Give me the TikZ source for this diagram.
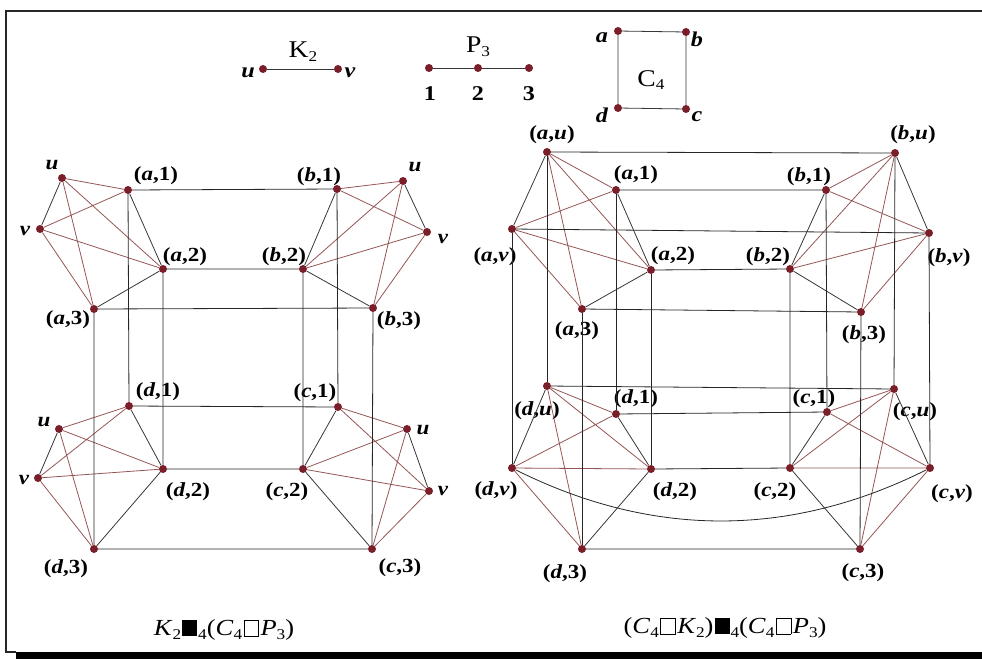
\documentclass[tikz,border=0pt]{standalone}
\usepackage{fontspec}
\setmainfont{Liberation Serif}[FakeStretch=1.15]
\definecolor{dotred}{RGB}{122,30,42}
\definecolor{joinred}{RGB}{150,85,85}
\definecolor{edgegray}{RGB}{55,55,55}
\newcommand{\lowidx}[1]{\raisebox{-0.35ex}{\fontsize{15}{15}\selectfont #1}}
\newcommand{\vp}[2]{(\textit{#1},#2)}
\newcommand{\filledsq}{\kern1pt\rule{15pt}{16pt}\kern1pt}
\newcommand{\opensq}{{\kern1.5pt\fboxsep=0pt\fboxrule=0.7pt\fbox{\rule{0pt}{15pt}\hspace{14pt}}\kern1.5pt}}

\begin{document}
\begin{tikzpicture}[
  x=1pt,y=-1pt,
  vtx/.style={circle,fill=dotred,inner sep=0pt,minimum size=8pt},
  lbl/.style={inner sep=0pt,font=\fontsize{20}{20}\selectfont\bfseries},
  toplbl/.style={inner sep=0pt,font=\fontsize{21}{21}\selectfont\bfseries},
  gname/.style={inner sep=0pt,font=\fontsize{24}{24}\selectfont},
  capt/.style={inner sep=0pt,font=\fontsize{23}{23}\selectfont},
  factedge/.style={draw=edgegray,line width=0.8pt},
  joinedge/.style={draw=joinred,line width=0.8pt},
  lnk/.style={draw=black!85,line width=0.8pt}
]
\useasboundingbox (0,0) rectangle (982,659);

% Frame
\draw[line width=2pt,black!85] (982,11) -- (6,11) -- (6,652) -- (16,652);
\fill[black] (16,652) rectangle (982,659);

% The factor graphs
\node[vtx] (Ku) at (263,69) {};
\node[vtx] (Kv) at (338,69) {};
\node[toplbl] (tKu) at (248,73) {\textit{u}};
\node[toplbl] (tKv) at (350,73) {\textit{v}};
\node[gname] (tK) at (303,52) {K\lowidx{2}};
\draw[factedge] (Ku) -- (Kv);

\node[vtx] (P1) at (429,68) {};
\node[vtx] (P2) at (478,68) {};
\node[vtx] (P3) at (529,68) {};
\node[toplbl] (tP1) at (430,94) {1};
\node[toplbl] (tP2) at (478,94) {2};
\node[toplbl] (tP3) at (529,94) {3};
\node[gname] (tP) at (478,47) {P\lowidx{3}};
\draw[factedge] (P1) -- (P2) -- (P3);

\node[vtx] (Ca) at (618,31) {};
\node[vtx] (Cb) at (686,32) {};
\node[vtx] (Cc) at (686,109) {};
\node[vtx] (Cd) at (618,108) {};
\node[toplbl] (tCa) at (602,38) {\textit{a}};
\node[toplbl] (tCb) at (697,39) {\textit{b}};
\node[toplbl] (tCc) at (697,117) {\textit{c}};
\node[toplbl] (tCd) at (602,115) {\textit{d}};
\node[gname] (tC) at (651,80) {C\lowidx{4}};
\draw[factedge] (Ca) -- (Cb) -- (Cc) -- (Cd) -- (Ca);

% Left graph: vertices
\node[vtx] (Lau) at (62,178) {};
\node[vtx] (Lav) at (40,229) {};
\node[vtx] (La1) at (128,190) {};
\node[vtx] (La2) at (163,269) {};
\node[vtx] (La3) at (94,309) {};
\node[vtx] (Lbu) at (403,181) {};
\node[vtx] (Lbv) at (427,232) {};
\node[vtx] (Lb1) at (337,189) {};
\node[vtx] (Lb2) at (303,269) {};
\node[vtx] (Lb3) at (373,308) {};
\node[vtx] (Ldu) at (59,429) {};
\node[vtx] (Ldv) at (38,478) {};
\node[vtx] (Ld1) at (129,406) {};
\node[vtx] (Ld2) at (163,469) {};
\node[vtx] (Ld3) at (94,549) {};
\node[vtx] (Lcu) at (407,429) {};
\node[vtx] (Lcv) at (429,491) {};
\node[vtx] (Lc1) at (338,407) {};
\node[vtx] (Lc2) at (303,469) {};
\node[vtx] (Lc3) at (372,549) {};

% Left graph: labels
\node[lbl] (tLau) at (52,165) {\textit{u}};
\node[lbl] (tLav) at (25,231) {\textit{v}};
\node[lbl] (tLa1) at (156,176) {\vp{a}{1}};
\node[lbl] (tLa2) at (185,257) {\vp{a}{2}};
\node[lbl] (tLa3) at (68,320) {\vp{a}{3}};
\node[lbl] (tLbu) at (415,167) {\textit{u}};
\node[lbl] (tLbv) at (443,239) {\textit{v}};
\node[lbl] (tLb1) at (319,177) {\vp{b}{1}};
\node[lbl] (tLb2) at (284,257) {\vp{b}{2}};
\node[lbl] (tLb3) at (399,321) {\vp{b}{3}};
\node[lbl] (tLdu) at (44,422) {\textit{u}};
\node[lbl] (tLdv) at (24,480) {\textit{v}};
\node[lbl] (tLd1) at (158,392) {\vp{d}{1}};
\node[lbl] (tLd2) at (188,492) {\vp{d}{2}};
\node[lbl] (tLd3) at (66,569) {\vp{d}{3}};
\node[lbl] (tLcu) at (423,430) {\textit{u}};
\node[lbl] (tLcv) at (443,491) {\textit{v}};
\node[lbl] (tLc1) at (315,393) {\vp{c}{1}};
\node[lbl] (tLc2) at (287,492) {\vp{c}{2}};
\node[lbl] (tLc3) at (400,568) {\vp{c}{3}};

% Left graph: edges inside the four groups
\draw[factedge] (Lau) -- (Lav) (La1) -- (La2) -- (La3);
\draw[joinedge] (Lau) -- (La1) (Lau) -- (La2) (Lau) -- (La3)
  (Lav) -- (La1) (Lav) -- (La2) (Lav) -- (La3);
\draw[factedge] (Lbu) -- (Lbv) (Lb1) -- (Lb2) -- (Lb3);
\draw[joinedge] (Lbu) -- (Lb1) (Lbu) -- (Lb2) (Lbu) -- (Lb3)
  (Lbv) -- (Lb1) (Lbv) -- (Lb2) (Lbv) -- (Lb3);
\draw[factedge] (Ldu) -- (Ldv) (Ld1) -- (Ld2) -- (Ld3);
\draw[joinedge] (Ldu) -- (Ld1) (Ldu) -- (Ld2) (Ldu) -- (Ld3)
  (Ldv) -- (Ld1) (Ldv) -- (Ld2) (Ldv) -- (Ld3);
\draw[factedge] (Lcu) -- (Lcv) (Lc1) -- (Lc2) -- (Lc3);
\draw[joinedge] (Lcu) -- (Lc1) (Lcu) -- (Lc2) (Lcu) -- (Lc3)
  (Lcv) -- (Lc1) (Lcv) -- (Lc2) (Lcv) -- (Lc3);

% Left graph: edges between the groups
\draw[lnk] (La1) -- (Lb1) (La2) -- (Lb2) (La3) -- (Lb3)
  (Ld1) -- (Lc1) (Ld2) -- (Lc2) (Ld3) -- (Lc3);
\draw[lnk] (La1) -- (Ld1) (La2) -- (Ld2) (La3) -- (Ld3)
  (Lb1) -- (Lc1) (Lb2) -- (Lc2) (Lb3) -- (Lc3);

% Right graph: vertices
\node[vtx] (Rau) at (547,152) {};
\node[vtx] (Rav) at (512,229) {};
\node[vtx] (Ra1) at (616,190) {};
\node[vtx] (Ra2) at (651,270) {};
\node[vtx] (Ra3) at (582,309) {};
\node[vtx] (Rbu) at (895,153) {};
\node[vtx] (Rbv) at (929,233) {};
\node[vtx] (Rb1) at (826,190) {};
\node[vtx] (Rb2) at (790,269) {};
\node[vtx] (Rb3) at (861,312) {};
\node[vtx] (Rdu) at (547,386) {};
\node[vtx] (Rdv) at (512,468) {};
\node[vtx] (Rd1) at (616,414) {};
\node[vtx] (Rd2) at (651,469) {};
\node[vtx] (Rd3) at (582,549) {};
\node[vtx] (Rcu) at (894,389) {};
\node[vtx] (Rcv) at (930,468) {};
\node[vtx] (Rc1) at (827,412) {};
\node[vtx] (Rc2) at (790,468) {};
\node[vtx] (Rc3) at (860,549) {};

% Right graph: labels
\node[lbl] (tRau) at (552,135) {\vp{a}{\textit{u}}};
\node[lbl] (tRav) at (495,257) {\vp{a}{\textit{v}}};
\node[lbl] (tRa1) at (636,175) {\vp{a}{1}};
\node[lbl] (tRa2) at (673,256) {\vp{a}{2}};
\node[lbl] (tRa3) at (577,331) {\vp{a}{3}};
\node[lbl] (tRbu) at (913,135) {\vp{b}{\textit{u}}};
\node[lbl] (tRbv) at (949,258) {\vp{b}{\textit{v}}};
\node[lbl] (tRb1) at (809,177) {\vp{b}{1}};
\node[lbl] (tRb2) at (768,257) {\vp{b}{2}};
\node[lbl] (tRb3) at (864,335) {\vp{b}{3}};
\node[lbl] (tRdu) at (537,411) {\vp{d}{\textit{u}}};
\node[lbl] (tRdv) at (496,491) {\vp{d}{\textit{v}}};
\node[lbl] (tRd1) at (636,399) {\vp{d}{1}};
\node[lbl] (tRd2) at (675,492) {\vp{d}{2}};
\node[lbl] (tRd3) at (565,574) {\vp{d}{3}};
\node[lbl] (tRcu) at (915,412) {\vp{c}{\textit{u}}};
\node[lbl] (tRcv) at (952,494) {\vp{c}{\textit{v}}};
\node[lbl] (tRc1) at (814,399) {\vp{c}{1}};
\node[lbl] (tRc2) at (775,492) {\vp{c}{2}};
\node[lbl] (tRc3) at (863,573) {\vp{c}{3}};

% Right graph: edges inside the four groups
\draw[factedge] (Rau) -- (Rav) (Ra1) -- (Ra2) -- (Ra3);
\draw[joinedge] (Rau) -- (Ra1) (Rau) -- (Ra2) (Rau) -- (Ra3)
  (Rav) -- (Ra1) (Rav) -- (Ra2) (Rav) -- (Ra3);
\draw[factedge] (Rbu) -- (Rbv) (Rb1) -- (Rb2) -- (Rb3);
\draw[joinedge] (Rbu) -- (Rb1) (Rbu) -- (Rb2) (Rbu) -- (Rb3)
  (Rbv) -- (Rb1) (Rbv) -- (Rb2) (Rbv) -- (Rb3);
\draw[factedge] (Rdu) -- (Rdv) (Rd1) -- (Rd2) -- (Rd3);
\draw[joinedge] (Rdu) -- (Rd1) (Rdu) -- (Rd2) (Rdu) -- (Rd3)
  (Rdv) -- (Rd1) (Rdv) -- (Rd2) (Rdv) -- (Rd3);
\draw[factedge] (Rcu) -- (Rcv) (Rc1) -- (Rc2) -- (Rc3);
\draw[joinedge] (Rcu) -- (Rc1) (Rcu) -- (Rc2) (Rcu) -- (Rc3)
  (Rcv) -- (Rc1) (Rcv) -- (Rc2) (Rcv) -- (Rc3);

% Right graph: edges between the groups
\draw[lnk] (Rau) -- (Rbu) (Rav) -- (Rbv) (Ra1) -- (Rb1) (Ra2) -- (Rb2) (Ra3) -- (Rb3);
\draw[lnk] (Rdu) -- (Rcu) (Rd1) -- (Rc1) (Rd2) -- (Rc2) (Rd3) -- (Rc3);
\draw[lnk] (Rdv) .. controls +(140,70) and +(-140,70) .. (Rcv);
\draw[lnk] (Rau) -- (Rdu) (Rav) -- (Rdv) (Ra1) -- (Rd1) (Ra2) -- (Rd2) (Ra3) -- (Rd3);
\draw[lnk] (Rbu) -- (Rcu) (Rbv) -- (Rcv) (Rb1) -- (Rc1) (Rb2) -- (Rc2) (Rb3) -- (Rc3);

% Captions
\node[capt] (capL) at (224,630)
  {\textit{K}\lowidx{2}\filledsq\lowidx{4}(\textit{C}\lowidx{4}\opensq\textit{P}\lowidx{3})};
\node[capt] (capR) at (725,628)
  {(\textit{C}\lowidx{4}\opensq\textit{K}\lowidx{2})\filledsq\lowidx{4}(\textit{C}\lowidx{4}\opensq\textit{P}\lowidx{3})};

\end{tikzpicture}
\end{document}
